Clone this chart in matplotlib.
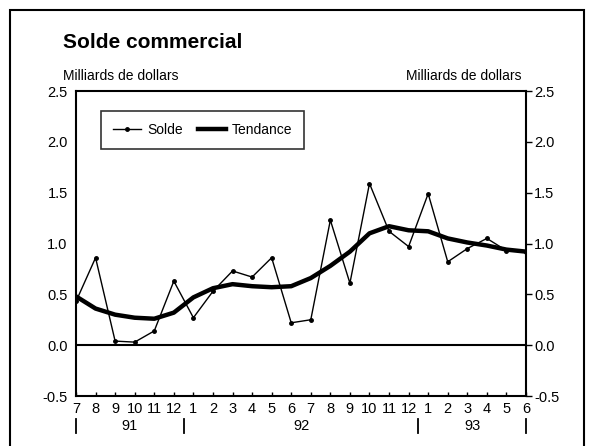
import matplotlib
matplotlib.use("Agg")
import matplotlib.pyplot as plt
import matplotlib.transforms as mtransforms
from matplotlib.patches import Rectangle
from matplotlib.lines import Line2D

plt.rcParams['font.family'] = ['Liberation Sans', 'DejaVu Sans']

months = ['7', '8', '9', '10', '11', '12', '1', '2', '3', '4', '5', '6',
          '7', '8', '9', '10', '11', '12', '1', '2', '3', '4', '5', '6']
years = ['91', '92', '93']
solde = [0.43, 0.86, 0.04, 0.03, 0.14, 0.63, 0.27, 0.53, 0.73, 0.67, 0.86, 0.22,
         0.25, 1.23, 0.61, 1.59, 1.12, 0.97, 1.49, 0.82, 0.95, 1.05, 0.93, 0.92]
tendance = [0.48, 0.36, 0.30, 0.27, 0.26, 0.32, 0.47, 0.56, 0.60, 0.58, 0.57, 0.58,
            0.66, 0.78, 0.92, 1.10, 1.17, 1.13, 1.12, 1.05, 1.01, 0.98, 0.94, 0.92]

W, H = 593, 446
fig = plt.figure(figsize=(W / 100, H / 100), dpi=100)
ax = fig.add_axes([76 / W, 1 - 396 / H, 450 / W, 305 / H])

x = list(range(len(months)))
ax.plot(x, solde, color='black', lw=1.0, marker='o', ms=2.5, label='Solde', zorder=3)
ax.plot(x, tendance, color='black', lw=3.2, label='Tendance', zorder=4)
ax.axhline(0, color='black', lw=1.5, zorder=2)

ax.set_xlim(0, len(months) - 1)
ax.set_ylim(-0.5, 2.5)
yt = [-0.5, 0.0, 0.5, 1.0, 1.5, 2.0, 2.5]
ax.set_yticks(yt)
ax.set_yticklabels([f'{v:.1f}' for v in yt])
ax.tick_params(axis='y', left=False, right=True, labelleft=True, labelright=True,
               direction='out', length=4, width=1, labelsize=10.5, pad=2)
ax.set_xticks(x)
ax.set_xticklabels(months)
ax.tick_params(axis='x', direction='in', length=3, width=1, labelsize=10.5, pad=4)
for s in ax.spines.values():
    s.set_linewidth(1.5)

# year separators and labels
trans = mtransforms.blended_transform_factory(ax.transData, ax.transAxes)
seps = [0, 5.5, 17.5, 23]
for sx in seps:
    ax.add_line(Line2D([sx, sx], [-0.075, -0.12], transform=trans, color='black',
                       lw=1.3, clip_on=False))
for i, yl in enumerate(years):
    xc = (seps[i] + seps[i + 1]) / 2
    ax.text(xc, -0.097, yl, transform=trans, ha='center', va='center', fontsize=10.5)

leg = ax.legend(loc='upper left', bbox_to_anchor=(0.056, 0.934), ncol=2, frameon=True,
                fancybox=False, edgecolor='black', fontsize=10, handlelength=2.0,
                columnspacing=1.1, borderpad=0.85, handletextpad=0.45, borderaxespad=0)
leg.get_frame().set_linewidth(1.2)

fig.text(63 / W, 1 - 42 / H, 'Solde commercial', fontsize=15, fontweight='bold',
         ha='left', va='center')
fig.text(63 / W, 1 - 76 / H, 'Milliards de dollars', fontsize=10, ha='left', va='center')
fig.text(522 / W, 1 - 76 / H, 'Milliards de dollars', fontsize=10, ha='right', va='center')

fig.patches.append(Rectangle((10 / W, -0.01), 574 / W, 1 - 10 / H + 0.01,
                             transform=fig.transFigure, fill=False, lw=1.5,
                             edgecolor='black'))

fig.savefig('out.png', dpi=100)
